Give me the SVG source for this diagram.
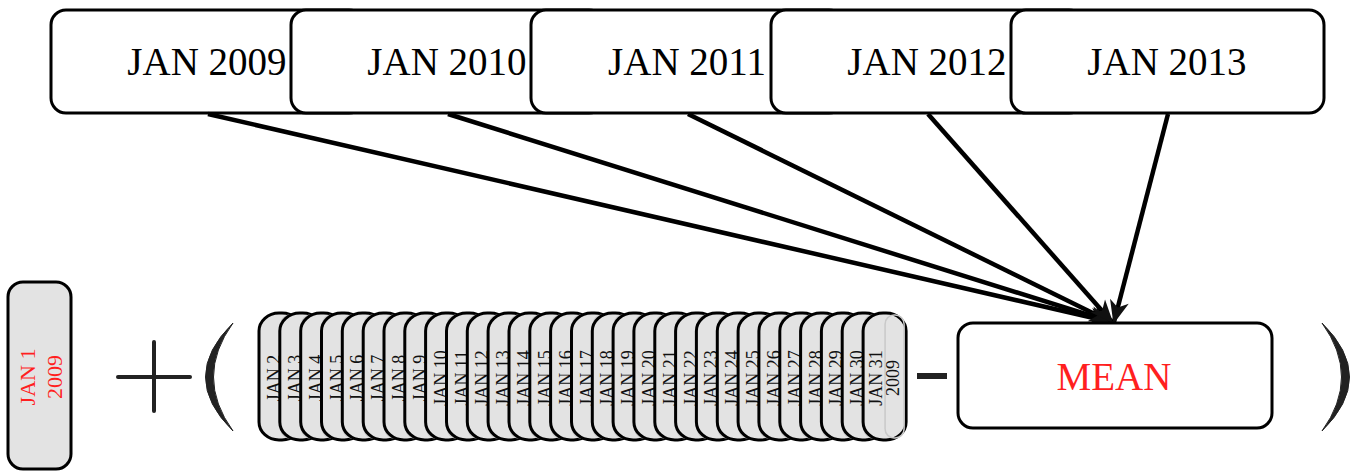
<svg xmlns="http://www.w3.org/2000/svg" width="1352" height="471" viewBox="0 0 1352 471">
<style>
.top{fill:#fff;stroke:#000;stroke-width:3}
.tt{font-family:"Liberation Serif",serif;font-size:39px;fill:#000;text-anchor:middle}
.day{fill:#e3e3e3;stroke:#000;stroke-width:3}
.ghost{fill:none;stroke:#c9c9c9;stroke-width:1.5}
.dt{font-family:"Liberation Serif",serif;font-size:18px;fill:#111;text-anchor:middle}
.red{fill:#ff1f1f}
.conn{stroke:#000;stroke-width:4.5;fill:none;marker-end:url(#ah)}
.op{stroke:#222;stroke-width:4;stroke-linecap:round;fill:none}
</style>
<defs>
<marker id="ah" markerUnits="userSpaceOnUse" markerWidth="30" markerHeight="30" refX="0" refY="0" viewBox="-24 -12 28 24" orient="auto">
<path d="M2,0 L-20,-9 L-14,0 L-20,9 Z" fill="#111"/>
</marker>
</defs>
<g id="year-boxes">
<g id="jan2009"><rect class="top" x="51" y="10" width="313" height="103" rx="15"/><text class="tt" x="207" y="75">JAN 2009</text></g>
<g id="jan2010"><rect class="top" x="291" y="10" width="313" height="103" rx="15"/><text class="tt" x="447" y="75">JAN 2010</text></g>
<g id="jan2011"><rect class="top" x="531" y="10" width="313" height="103" rx="15"/><text class="tt" x="687" y="75">JAN 2011</text></g>
<g id="jan2012"><rect class="top" x="771" y="10" width="313" height="103" rx="15"/><text class="tt" x="927" y="75">JAN 2012</text></g>
<g id="jan2013"><rect class="top" x="1011" y="10" width="313" height="103" rx="15"/><text class="tt" x="1167" y="75">JAN 2013</text></g>
</g>
<g id="connectors">
<line class="conn" x1="208" y1="114" x2="1111" y2="322"/>
<line class="conn" x1="448" y1="114" x2="1111" y2="322"/>
<line class="conn" x1="688" y1="114" x2="1111" y2="322"/>
<line class="conn" x1="928" y1="114" x2="1112" y2="322"/>
<line class="conn" x1="1168" y1="114" x2="1114" y2="322"/>
</g>
<g id="jan1">
<rect class="day" x="8" y="282" width="63" height="187" rx="15"/>
<text class="dt red" style="font-size:22px" transform="translate(35,377) rotate(-90)">JAN 1</text>
<text class="dt red" style="font-size:22px" transform="translate(62,377) rotate(-90)">2009</text>
</g>
<g id="plus"><line class="op" x1="118" y1="377" x2="190" y2="377"/><line class="op" x1="154" y1="342" x2="154" y2="411"/></g>
<path id="lparen" d="M233,323 Q178,377 233,431 Q194,377 233,323 Z" fill="#222" stroke="#222" stroke-width="1"/>
<g id="days">
<g id="jan2d"><rect class="day" x="259.0" y="313" width="43" height="127" rx="20" ry="18"/><rect class="ghost" x="281.0" y="315" width="19" height="123" rx="9"/><text class="dt" transform="translate(280.0,378) rotate(-90)">JAN 2</text></g>
<g id="jan3d"><rect class="day" x="279.8" y="313" width="43" height="127" rx="20" ry="18"/><rect class="ghost" x="301.8" y="315" width="19" height="123" rx="9"/><text class="dt" transform="translate(300.8,378) rotate(-90)">JAN 3</text></g>
<g id="jan4d"><rect class="day" x="300.7" y="313" width="43" height="127" rx="20" ry="18"/><rect class="ghost" x="322.7" y="315" width="19" height="123" rx="9"/><text class="dt" transform="translate(321.7,378) rotate(-90)">JAN 4</text></g>
<g id="jan5d"><rect class="day" x="321.5" y="313" width="43" height="127" rx="20" ry="18"/><rect class="ghost" x="343.5" y="315" width="19" height="123" rx="9"/><text class="dt" transform="translate(342.5,378) rotate(-90)">JAN 5</text></g>
<g id="jan6d"><rect class="day" x="342.3" y="313" width="43" height="127" rx="20" ry="18"/><rect class="ghost" x="364.3" y="315" width="19" height="123" rx="9"/><text class="dt" transform="translate(363.3,378) rotate(-90)">JAN 6</text></g>
<g id="jan7d"><rect class="day" x="363.2" y="313" width="43" height="127" rx="20" ry="18"/><rect class="ghost" x="385.2" y="315" width="19" height="123" rx="9"/><text class="dt" transform="translate(384.2,378) rotate(-90)">JAN 7</text></g>
<g id="jan8d"><rect class="day" x="384.0" y="313" width="43" height="127" rx="20" ry="18"/><rect class="ghost" x="406.0" y="315" width="19" height="123" rx="9"/><text class="dt" transform="translate(405.0,378) rotate(-90)">JAN 8</text></g>
<g id="jan9d"><rect class="day" x="404.8" y="313" width="43" height="127" rx="20" ry="18"/><rect class="ghost" x="426.8" y="315" width="19" height="123" rx="9"/><text class="dt" transform="translate(425.8,378) rotate(-90)">JAN 9</text></g>
<g id="jan10d"><rect class="day" x="425.6" y="313" width="43" height="127" rx="20" ry="18"/><rect class="ghost" x="447.6" y="315" width="19" height="123" rx="9"/><text class="dt" transform="translate(446.6,378) rotate(-90)">JAN 10</text></g>
<g id="jan11d"><rect class="day" x="446.5" y="313" width="43" height="127" rx="20" ry="18"/><rect class="ghost" x="468.5" y="315" width="19" height="123" rx="9"/><text class="dt" transform="translate(467.5,378) rotate(-90)">JAN 11</text></g>
<g id="jan12d"><rect class="day" x="467.3" y="313" width="43" height="127" rx="20" ry="18"/><rect class="ghost" x="489.3" y="315" width="19" height="123" rx="9"/><text class="dt" transform="translate(488.3,378) rotate(-90)">JAN 12</text></g>
<g id="jan13d"><rect class="day" x="488.1" y="313" width="43" height="127" rx="20" ry="18"/><rect class="ghost" x="510.1" y="315" width="19" height="123" rx="9"/><text class="dt" transform="translate(509.1,378) rotate(-90)">JAN 13</text></g>
<g id="jan14d"><rect class="day" x="509.0" y="313" width="43" height="127" rx="20" ry="18"/><rect class="ghost" x="531.0" y="315" width="19" height="123" rx="9"/><text class="dt" transform="translate(530.0,378) rotate(-90)">JAN 14</text></g>
<g id="jan15d"><rect class="day" x="529.8" y="313" width="43" height="127" rx="20" ry="18"/><rect class="ghost" x="551.8" y="315" width="19" height="123" rx="9"/><text class="dt" transform="translate(550.8,378) rotate(-90)">JAN 15</text></g>
<g id="jan16d"><rect class="day" x="550.6" y="313" width="43" height="127" rx="20" ry="18"/><rect class="ghost" x="572.6" y="315" width="19" height="123" rx="9"/><text class="dt" transform="translate(571.6,378) rotate(-90)">JAN 16</text></g>
<g id="jan17d"><rect class="day" x="571.5" y="313" width="43" height="127" rx="20" ry="18"/><rect class="ghost" x="593.5" y="315" width="19" height="123" rx="9"/><text class="dt" transform="translate(592.5,378) rotate(-90)">JAN 17</text></g>
<g id="jan18d"><rect class="day" x="592.3" y="313" width="43" height="127" rx="20" ry="18"/><rect class="ghost" x="614.3" y="315" width="19" height="123" rx="9"/><text class="dt" transform="translate(613.3,378) rotate(-90)">JAN 18</text></g>
<g id="jan19d"><rect class="day" x="613.1" y="313" width="43" height="127" rx="20" ry="18"/><rect class="ghost" x="635.1" y="315" width="19" height="123" rx="9"/><text class="dt" transform="translate(634.1,378) rotate(-90)">JAN 19</text></g>
<g id="jan20d"><rect class="day" x="633.9" y="313" width="43" height="127" rx="20" ry="18"/><rect class="ghost" x="655.9" y="315" width="19" height="123" rx="9"/><text class="dt" transform="translate(654.9,378) rotate(-90)">JAN 20</text></g>
<g id="jan21d"><rect class="day" x="654.8" y="313" width="43" height="127" rx="20" ry="18"/><rect class="ghost" x="676.8" y="315" width="19" height="123" rx="9"/><text class="dt" transform="translate(675.8,378) rotate(-90)">JAN 21</text></g>
<g id="jan22d"><rect class="day" x="675.6" y="313" width="43" height="127" rx="20" ry="18"/><rect class="ghost" x="697.6" y="315" width="19" height="123" rx="9"/><text class="dt" transform="translate(696.6,378) rotate(-90)">JAN 22</text></g>
<g id="jan23d"><rect class="day" x="696.4" y="313" width="43" height="127" rx="20" ry="18"/><rect class="ghost" x="718.4" y="315" width="19" height="123" rx="9"/><text class="dt" transform="translate(717.4,378) rotate(-90)">JAN 23</text></g>
<g id="jan24d"><rect class="day" x="717.3" y="313" width="43" height="127" rx="20" ry="18"/><rect class="ghost" x="739.3" y="315" width="19" height="123" rx="9"/><text class="dt" transform="translate(738.3,378) rotate(-90)">JAN 24</text></g>
<g id="jan25d"><rect class="day" x="738.1" y="313" width="43" height="127" rx="20" ry="18"/><rect class="ghost" x="760.1" y="315" width="19" height="123" rx="9"/><text class="dt" transform="translate(759.1,378) rotate(-90)">JAN 25</text></g>
<g id="jan26d"><rect class="day" x="758.9" y="313" width="43" height="127" rx="20" ry="18"/><rect class="ghost" x="780.9" y="315" width="19" height="123" rx="9"/><text class="dt" transform="translate(779.9,378) rotate(-90)">JAN 26</text></g>
<g id="jan27d"><rect class="day" x="779.8" y="313" width="43" height="127" rx="20" ry="18"/><rect class="ghost" x="801.8" y="315" width="19" height="123" rx="9"/><text class="dt" transform="translate(800.8,378) rotate(-90)">JAN 27</text></g>
<g id="jan28d"><rect class="day" x="800.6" y="313" width="43" height="127" rx="20" ry="18"/><rect class="ghost" x="822.6" y="315" width="19" height="123" rx="9"/><text class="dt" transform="translate(821.6,378) rotate(-90)">JAN 28</text></g>
<g id="jan29d"><rect class="day" x="821.4" y="313" width="43" height="127" rx="20" ry="18"/><rect class="ghost" x="843.4" y="315" width="19" height="123" rx="9"/><text class="dt" transform="translate(842.4,378) rotate(-90)">JAN 29</text></g>
<g id="jan30d"><rect class="day" x="842.2" y="313" width="43" height="127" rx="20" ry="18"/><rect class="ghost" x="864.2" y="315" width="19" height="123" rx="9"/><text class="dt" transform="translate(863.2,378) rotate(-90)">JAN 30</text></g>
<g id="jan31d"><rect class="day" x="863.1" y="313" width="43" height="127" rx="20" ry="18"/><rect class="ghost" x="885.1" y="315" width="19" height="123" rx="9"/><text class="dt" transform="translate(882.1,378) rotate(-90)">JAN 31</text><text class="dt" transform="translate(898.5,378) rotate(-90)">2009</text></g>
</g>
<rect id="minus" x="917" y="373" width="30" height="6" fill="#222"/>
<g id="mean">
<rect class="top" x="958" y="323" width="314" height="105" rx="15"/>
<text class="tt red" x="1114" y="390">MEAN</text>
</g>
<path id="rparen" d="M1322,323 Q1377,377 1322,431 Q1361,377 1322,323 Z" fill="#222" stroke="#222" stroke-width="1"/>
</svg>
